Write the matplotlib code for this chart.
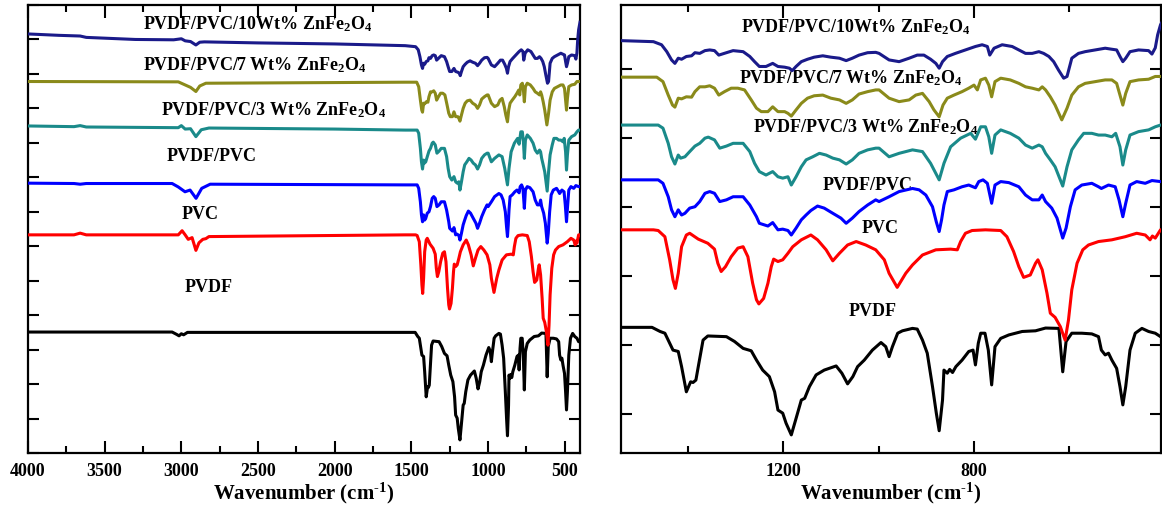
import numpy as np
import matplotlib
matplotlib.use("Agg")
import matplotlib.pyplot as plt
from matplotlib.ticker import MultipleLocator, FixedLocator

plt.rcParams['font.family'] = ['Liberation Serif', 'DejaVu Serif']
plt.rcParams['font.weight'] = 'bold'
plt.rcParams['mathtext.fontset'] = 'custom'
plt.rcParams['mathtext.rm'] = 'Liberation Serif:bold'
plt.rcParams['mathtext.it'] = 'Liberation Serif:bold'
plt.rcParams['mathtext.bf'] = 'Liberation Serif:bold'

# spectra: (wavenumber, stacked transmittance)
pvdf = [(4000, 3.51), (3060, 3.51), (3030, 3.44), (3015, 3.40), (3000, 3.46), (2985, 3.43), (2960, 3.50),
        (1540, 3.50), (1475, 3.50), (1458, 3.38), (1448, 3.33), (1431, 2.84), (1420, 2.80), (1413, 2.36),
        (1403, 1.63), (1394, 1.92), (1389, 1.90), (1383, 1.97), (1378, 2.36), (1368, 3.13), (1358, 3.25),
        (1319, 3.23), (1302, 3.09), (1284, 2.89), (1267, 2.82), (1256, 2.55), (1243, 2.26), (1229, 2.07),
        (1218, 1.63), (1211, 1.10), (1201, 1.01), (1194, 0.72), (1183, 0.38), (1174, 0.81), (1162, 1.39),
        (1155, 1.44), (1145, 1.78), (1131, 2.12), (1114, 2.26), (1089, 2.38), (1077, 2.17), (1065, 1.86),
        (1054, 2.07), (1044, 2.36), (1030, 2.55), (1013, 2.84), (995, 3.06), (985, 2.94), (978, 2.65),
        (971, 2.94), (960, 3.33), (950, 3.40), (929, 3.47), (919, 3.45), (908, 3.13), (898, 2.75),
        (887, 1.78), (879, 1.01), (873, 0.50), (866, 1.39), (863, 2.26), (856, 2.17), (851, 2.28),
        (845, 2.19), (838, 2.36), (825, 2.55), (811, 2.80), (802, 2.84), (797, 2.41), (791, 3.04),
        (786, 3.33), (777, 3.33), (770, 2.84), (763, 1.83), (756, 2.94), (744, 3.18), (727, 3.28),
        (699, 3.38), (671, 3.40), (650, 3.48), (622, 3.47), (614, 2.21), (607, 3.09), (595, 3.33),
        (574, 3.33), (553, 3.31), (539, 3.23), (533, 2.84), (525, 2.70), (518, 2.75), (511, 2.55),
        (501, 2.31), (494, 1.78), (488, 1.25), (482, 1.78), (473, 2.84), (462, 3.33), (448, 3.47),
        (434, 3.38), (420, 3.33), (409, 3.23), (400, 3.23)]

pvc = [(4000, 6.33), (3700, 6.33), (3660, 6.38), (3620, 6.33), (3020, 6.33), (2995, 6.45), (2975, 6.33),
       (2955, 6.20), (2930, 6.25), (2905, 5.88), (2885, 6.10), (2860, 6.20), (2840, 6.22), (2820, 6.28),
       (1540, 6.33), (1472, 6.33), (1462, 6.31), (1448, 6.13), (1438, 5.46), (1431, 4.88), (1426, 4.63),
       (1420, 5.07), (1413, 5.84), (1403, 6.18), (1396, 6.23), (1378, 6.06), (1358, 5.94), (1344, 5.77),
       (1337, 5.36), (1330, 5.12), (1321, 5.26), (1309, 5.55), (1295, 5.80), (1284, 5.84), (1274, 5.55),
       (1264, 4.78), (1256, 4.30), (1251, 4.18), (1241, 4.34), (1232, 4.78), (1225, 5.26), (1220, 5.48),
       (1211, 5.41), (1201, 5.46), (1190, 5.65), (1180, 5.84), (1162, 6.04), (1142, 6.18), (1128, 6.04),
       (1110, 5.75), (1096, 5.43), (1082, 5.65), (1065, 5.89), (1047, 5.99), (1027, 5.89), (1006, 5.75),
       (988, 5.46), (978, 5.07), (961, 4.66), (943, 5.07), (929, 5.31), (908, 5.60), (880, 5.75),
       (849, 5.77), (835, 5.75), (828, 5.99), (818, 6.23), (804, 6.31), (776, 6.33), (744, 6.31),
       (731, 6.13), (717, 5.70), (706, 5.26), (696, 4.95), (682, 5.02), (671, 5.36), (666, 5.46),
       (657, 5.17), (647, 4.49), (640, 3.91), (630, 3.79), (619, 3.52), (609, 3.13), (602, 3.71),
       (595, 4.59), (584, 5.36), (572, 5.75), (560, 5.89), (539, 5.99), (511, 6.04), (483, 6.13),
       (459, 6.23), (441, 6.18), (431, 6.04), (426, 6.15), (420, 6.09), (409, 6.33), (400, 6.33)]

pvdf_pvc = [(4000, 7.83), (3700, 7.82), (3660, 7.80), (3620, 7.82), (3060, 7.82), (3020, 7.72), (2976, 7.58),
            (2943, 7.63), (2904, 7.39), (2867, 7.68), (2812, 7.80), (1540, 7.78), (1462, 7.78), (1452, 7.68),
            (1441, 7.29), (1434, 6.91), (1427, 6.71), (1420, 6.91), (1413, 6.76), (1406, 6.81), (1396, 6.96),
            (1385, 7.00), (1375, 7.15), (1364, 7.39), (1354, 7.44), (1344, 7.39), (1333, 7.15), (1319, 7.20),
            (1305, 7.29), (1284, 7.29), (1270, 7.05), (1256, 6.71), (1250, 6.52), (1232, 6.44), (1222, 6.54),
            (1211, 6.33), (1201, 6.35), (1190, 6.31), (1183, 6.18), (1173, 6.38), (1162, 6.62), (1152, 6.76),
            (1142, 6.89), (1128, 7.02), (1114, 6.96), (1096, 6.81), (1079, 6.67), (1068, 6.52), (1055, 6.67),
            (1041, 6.86), (1023, 7.05), (1006, 7.20), (999, 7.15), (978, 7.29), (957, 7.44), (929, 7.53),
            (915, 7.49), (901, 7.34), (887, 7.00), (879, 6.56), (873, 6.28), (868, 6.62), (863, 7.05),
            (856, 7.44), (842, 7.49), (825, 7.58), (811, 7.63), (797, 7.55), (790, 7.73), (781, 7.78),
            (772, 7.68), (763, 7.10), (756, 7.63), (744, 7.73), (727, 7.70), (706, 7.58), (692, 7.34),
            (678, 7.20), (664, 7.20), (657, 7.34), (650, 7.15), (637, 6.96), (626, 6.67), (619, 6.33),
            (614, 6.09), (607, 6.38), (598, 7.00), (588, 7.49), (574, 7.63), (553, 7.68), (539, 7.58),
            (533, 7.53), (518, 7.63), (504, 7.58), (496, 7.20), (488, 6.71), (482, 7.10), (473, 7.63),
            (459, 7.73), (441, 7.68), (427, 7.76), (409, 7.73), (400, 7.73)]

zf3 = [(4000, 9.49), (3700, 9.47), (3660, 9.50), (3620, 9.46), (3020, 9.44), (3000, 9.50), (2975, 9.40),
       (2940, 9.41), (2905, 9.18), (2870, 9.38), (2820, 9.43), (2000, 9.40), (1540, 9.37), (1462, 9.37),
       (1452, 9.28), (1441, 8.84), (1434, 8.45), (1427, 8.24), (1420, 8.50), (1415, 8.41), (1406, 8.45),
       (1396, 8.60), (1385, 8.76), (1375, 8.84), (1364, 8.99), (1357, 9.02), (1344, 8.94), (1333, 8.70),
       (1319, 8.76), (1305, 8.84), (1284, 8.84), (1270, 8.60), (1260, 8.26), (1250, 8.02), (1236, 7.92),
       (1222, 8.02), (1211, 7.87), (1201, 7.83), (1190, 7.87), (1183, 7.63), (1173, 7.87), (1162, 8.16),
       (1152, 8.36), (1138, 8.45), (1124, 8.55), (1110, 8.50), (1096, 8.41), (1082, 8.36), (1068, 8.24),
       (1055, 8.36), (1041, 8.55), (1023, 8.65), (1006, 8.70), (999, 8.70), (978, 8.45), (957, 8.55),
       (929, 8.65), (908, 8.60), (891, 8.26), (873, 7.78), (863, 8.26), (849, 8.74), (828, 8.99),
       (807, 9.13), (797, 8.96), (786, 9.32), (776, 9.32), (769, 9.03), (763, 8.55), (756, 9.08),
       (744, 9.23), (724, 9.13), (706, 8.99), (692, 8.79), (678, 8.70), (664, 8.79), (657, 8.74),
       (650, 8.55), (640, 8.36), (630, 8.16), (614, 7.60), (605, 8.16), (595, 8.65), (581, 8.94),
       (570, 9.13), (553, 9.13), (539, 9.08), (525, 9.08), (511, 9.03), (503, 9.13), (494, 8.74),
       (488, 8.21), (482, 8.65), (473, 9.08), (455, 9.18), (434, 9.23), (420, 9.32), (409, 9.37), (400, 9.37)]

zf7 = [(4000, 10.78), (3020, 10.77), (2960, 10.65), (2940, 10.61), (2905, 10.49), (2880, 10.65), (2840, 10.73),
       (1540, 10.76), (1465, 10.76), (1452, 10.63), (1441, 10.24), (1432, 9.95), (1427, 9.89), (1420, 10.15),
       (1413, 10.13), (1403, 10.19), (1392, 10.18), (1385, 10.34), (1375, 10.48), (1364, 10.48), (1354, 10.51),
       (1344, 10.44), (1335, 10.24), (1323, 10.34), (1309, 10.44), (1295, 10.44), (1281, 10.39), (1267, 10.10),
       (1256, 9.86), (1246, 9.76), (1232, 9.76), (1222, 9.90), (1211, 9.76), (1197, 9.76), (1190, 9.71),
       (1183, 9.63), (1173, 9.81), (1162, 10.00), (1149, 10.15), (1135, 10.22), (1117, 10.24), (1100, 10.15),
       (1082, 10.10), (1068, 10.00), (1055, 10.10), (1041, 10.27), (1023, 10.34), (1006, 10.39), (999, 10.39),
       (978, 10.15), (957, 10.05), (936, 10.10), (922, 10.24), (908, 10.29), (894, 10.05), (884, 9.81),
       (873, 9.61), (865, 9.95), (856, 10.15), (842, 10.24), (825, 10.34), (811, 10.44), (800, 10.53),
       (793, 10.39), (786, 10.68), (776, 10.73), (769, 10.53), (763, 10.19), (756, 10.63), (744, 10.73),
       (724, 10.68), (706, 10.58), (692, 10.48), (678, 10.44), (664, 10.39), (657, 10.48), (650, 10.39),
       (640, 10.19), (630, 9.95), (616, 9.52), (605, 9.86), (595, 10.24), (581, 10.48), (567, 10.58),
       (546, 10.63), (525, 10.68), (511, 10.68), (501, 10.58), (494, 10.24), (488, 9.95), (482, 10.29),
       (473, 10.63), (455, 10.68), (434, 10.70), (420, 10.78), (409, 10.78), (400, 10.78)]

zf10 = [(4000, 12.16), (3800, 12.12), (3660, 12.10), (3620, 12.06), (3300, 12.00), (3050, 11.99), (3000, 12.02),
        (2975, 11.96), (2940, 11.94), (2905, 11.84), (2880, 11.92), (2850, 11.93), (2500, 11.90), (2000, 11.87),
        (1540, 11.82), (1472, 11.79), (1455, 11.70), (1444, 11.50), (1434, 11.26), (1427, 11.16), (1420, 11.31),
        (1413, 11.28), (1403, 11.36), (1392, 11.38), (1385, 11.47), (1375, 11.45), (1364, 11.53), (1354, 11.55),
        (1344, 11.53), (1335, 11.40), (1319, 11.47), (1305, 11.53), (1284, 11.50), (1270, 11.36), (1260, 11.21),
        (1250, 11.07), (1236, 11.07), (1222, 11.16), (1211, 11.07), (1197, 11.05), (1187, 11.02), (1181, 10.95),
        (1173, 11.07), (1162, 11.21), (1149, 11.28), (1135, 11.34), (1117, 11.38), (1100, 11.34), (1082, 11.31),
        (1068, 11.24), (1055, 11.31), (1041, 11.40), (1023, 11.47), (1006, 11.48), (999, 11.45), (978, 11.26),
        (957, 11.21), (936, 11.31), (919, 11.40), (905, 11.40), (891, 11.28), (880, 11.16), (873, 11.02),
        (866, 11.21), (856, 11.36), (839, 11.45), (818, 11.55), (797, 11.65), (783, 11.70), (772, 11.65),
        (767, 11.40), (758, 11.60), (741, 11.70), (720, 11.65), (706, 11.55), (692, 11.45), (678, 11.45),
        (664, 11.50), (654, 11.45), (643, 11.36), (633, 11.21), (623, 10.97), (612, 10.73), (605, 10.78),
        (595, 11.31), (581, 11.45), (567, 11.50), (546, 11.55), (525, 11.60), (511, 11.57), (501, 11.55),
        (494, 11.36), (488, 11.21), (482, 11.31), (473, 11.50), (455, 11.55), (434, 11.53), (427, 11.43),
        (420, 11.61), (415, 11.99), (409, 12.28), (400, 12.50)]

spectra = [pvdf, pvc, pvdf_pvc, zf3, zf7, zf10]
colors = ['#000000', '#ff0000', '#0000ff', '#1a8a8a', '#8a8a1a', '#1a1a8a']

labels = ['PVDF', 'PVC', 'PVDF/PVC', 'PVDF/PVC/3 Wt% ZnFe$_2$O$_4$',
          'PVDF/PVC/7 Wt% ZnFe$_2$O$_4$', 'PVDF/PVC/10Wt% ZnFe$_2$O$_4$']
# label anchors (left edge, vertical centre) for each panel
left_pos = [(2976, 4.79), (2996, 6.91), (3093, 8.59), (3133, 9.95), (3250, 11.26), (3250, 12.45)]
right_pos = [(1063, 3.95), (1036, 6.36), (1118, 7.63), (1264, 9.32), (1293, 10.74), (1289, 12.22)]

W, H = 1162, 511
fig = plt.figure(figsize=(W / 100, H / 100), dpi=100)
ax1 = fig.add_axes([28 / W, 58 / H, 552 / W, 448 / H])
ax2 = fig.add_axes([621 / W, 58 / H, 540 / W, 448 / H])


def draw(ax, positions):
    for spec, c in zip(spectra, colors):
        wn, t = np.array(spec).T
        ax.plot(wn, t, color=c, lw=2.2, zorder=3, solid_joinstyle='round')
    for lab, (x, y) in zip(labels, positions):
        ax.text(x, y, lab, fontsize=13, fontweight='bold', ha='left', va='center', zorder=2)
    for s in ax.spines.values():
        s.set_linewidth(1.6)
    ax.tick_params(which='both', direction='in', top=True, right=True, width=1.5,
                   labelsize=13, pad=7)
    ax.tick_params(which='major', length=9)
    ax.tick_params(which='minor', length=5)
    ax.tick_params(axis='y', labelleft=False)
    ax.set_xlabel(r'Wavenumber (cm$^{\text{-1}}$)', fontsize=15, fontweight='bold', labelpad=1)
    for lab in ax.get_xticklabels():
        lab.set_fontweight('bold')


draw(ax1, left_pos)
ax1.set_xlim(4000, 400)
ax1.set_ylim(0, 13)
ax1.xaxis.set_major_locator(MultipleLocator(500))
ax1.xaxis.set_minor_locator(MultipleLocator(250))
ax1.yaxis.set_major_locator(MultipleLocator(1))
ax1.tick_params(axis='y', length=8)

draw(ax2, right_pos)
ax2.set_xlim(1540, 408)
ax2.set_ylim(-0.146, 12.854)
ax2.xaxis.set_major_locator(FixedLocator([1200, 800, 400]))
ax2.xaxis.set_minor_locator(FixedLocator([1400, 1000, 600]))
ax2.yaxis.set_major_locator(FixedLocator([1, 3, 5, 7, 9, 11]))
ax2.tick_params(axis='y', length=8)

fig.savefig('out.png', dpi=100)
